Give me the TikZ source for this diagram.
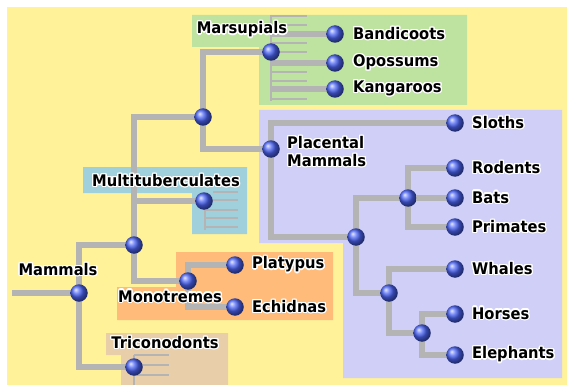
\documentclass[tikz,border=0pt]{standalone}
\usepackage{fontspec}
\setmainfont{DejaVu Sans}[FakeStretch=0.92]
\usepackage[copies]{contour}
\contourlength{1.3pt}
\usetikzlibrary{positioning,backgrounds}

\definecolor{bgyellow}{RGB}{255,242,153}
\definecolor{margreen}{RGB}{190,227,160}
\definecolor{plapurple}{RGB}{207,207,248}
\definecolor{mulblue}{RGB}{160,208,220}
\definecolor{monorange}{RGB}{255,187,122}
\definecolor{tritan}{RGB}{232,207,170}
\definecolor{linegray}{RGB}{180,180,180}
\definecolor{ballblue}{RGB}{75,100,245}

\newcommand{\glow}[1]{\contour{white}{#1}}

\begin{document}
\begin{tikzpicture}[
  x=1pt, y=-1pt,
  every node/.style={font=\bfseries\fontsize{16}{18}\selectfont},
  ball/.style={circle, minimum size=17.5pt, inner sep=0pt,
               shading=ball, ball color=ballblue},
  branch/.style={draw=linegray, line width=6.5pt},
  twig/.style={draw=linegray, line width=2.6pt},
  leaf/.style={inner sep=0pt},
]
  \useasboundingbox (0,0) rectangle (567,385);

  % Stem and early splits
  \coordinate (root) at (12,293);
  \node[ball] (mam) at (79,293) {};
  \node[ball] (allo) at (134,245) {};
  \node[ball] (ther) at (203,117) {};
  \node[ball] (tric) at (134,367) {};
  \node[ball] (multi) at (204,201) {};
  \node[ball] (mono) at (188,281) {};

  % Marsupials
  \node[ball] (mars) at (271,52) {};
  \node[ball] (band) at (335,34) {};
  \node[ball] (opos) at (335,63) {};
  \node[ball] (kang) at (335,89) {};

  % Placentals
  \node[ball] (plac) at (271,149) {};
  \node[ball] (eu1) at (356,237) {};
  \node[ball] (eu2) at (408,198) {};
  \node[ball] (eu3) at (389,293) {};
  \node[ball] (eu4) at (422,333) {};
  \node[ball] (slot) at (455,123) {};
  \node[ball] (rode) at (455,168) {};
  \node[ball] (bats) at (455,198) {};
  \node[ball] (prim) at (455,227) {};
  \node[ball] (whal) at (455,269) {};
  \node[ball] (hors) at (455,314) {};
  \node[ball] (elep) at (455,355) {};

  % Monotremes
  \node[ball] (plat) at (235,265) {};
  \node[ball] (echi) at (235,307) {};

  % Group labels
  \node (marsl) at (242,30) {\glow{Marsupials}};
  \node (multil) at (166,181) {\glow{Multituberculates}};
  \node (maml) at (58,270) {\glow{Mammals}};
  \node (monol) at (170,297) {\glow{Monotremes}};
  \node (tricl) at (165,343) {\glow{Triconodonts}};
  \node[anchor=west, align=left, inner sep=0pt] (placl) at (287,152)
    {\glow{Placental}\\\glow{Mammals}};

  % Leaf labels
  \node[leaf, right=9pt of band] (bandl) {\glow{Bandicoots}};
  \node[leaf, right=9pt of opos] (oposl) {\glow{Opossums}};
  \node[leaf, right=9pt of kang] (kangl) {\glow{Kangaroos}};
  \node[leaf, right=8pt of slot] (slotl) {\glow{Sloths}};
  \node[leaf, right=8pt of rode] (rodel) {\glow{Rodents}};
  \node[leaf, right=8pt of bats] (batsl) {\glow{Bats}};
  \node[leaf, right=8pt of prim] (priml) {\glow{Primates}};
  \node[leaf, right=8pt of whal] (whall) {\glow{Whales}};
  \node[leaf, right=8pt of hors] (horsl) {\glow{Horses}};
  \node[leaf, right=8pt of elep] (elepl) {\glow{Elephants}};
  \node[leaf, right=8pt of plat] (platl) {\glow{Platypus}};
  \node[leaf, right=8pt of echi] (echil) {\glow{Echidnas}};

  \begin{pgfonlayer}{background}
    % Coloured group areas
    \fill[bgyellow] (7,7) rectangle (567,385);
    \fill[margreen] (192,15) -- (467,15) -- (467,105) -- (259,105)
      -- (259,47) -- (192,47) -- cycle;
    \fill[plapurple] (259,110) -- (562,110) -- (562,378) -- (343,378)
      -- (343,243) -- (259,243) -- cycle;
    \fill[mulblue] (83,167) -- (247,167) -- (247,234) -- (192,234)
      -- (192,193) -- (83,193) -- cycle;
    \fill[monorange] (176,252) -- (333,252) -- (333,320) -- (117,320)
      -- (117,287) -- (176,287) -- cycle;
    \fill[tritan] (106,333) -- (228,333) -- (228,385) -- (121,385)
      -- (121,355) -- (106,355) -- cycle;

    % Extinct side lines
    \draw[twig] (271,15) -- (271,101);
    \foreach \y in {16,25,43,52,72,81,99}
      \draw[twig] (271,\y) -- (307,\y);
    \draw[twig] (205,200) -- (205,230);
    \draw[twig] (213,192) -- (238,192);
    \foreach \y in {200,210,218,227}
      \draw[twig] (205,\y) -- (238,\y);
    \draw[twig] (134,355) -- (134,385);
    \foreach \y in {355,365,375}
      \draw[twig] (134,\y) -- (169,\y);

    % Branches
    \draw[branch] (root) -- (mam.center);
    \draw[branch] (mam.center) |- (allo.center);
    \draw[branch] (mam.center) |- (tric.center);
    \draw[branch] (allo.center) |- (ther.center);
    \draw[branch] (allo.center) |- (mono.center);
    \draw[branch] (multi.center) -- (multi.center -| allo.center);
    \draw[branch] (mono.center) |- (plat.center);
    \draw[branch] (mono.center) |- (echi.center);
    \draw[branch] (ther.center) |- (mars.center);
    \draw[branch] (ther.center) |- (plac.center);
    \draw[branch] (band.center -| mars.center) -- (band.center);
    \draw[branch] (opos.center -| mars.center) -- (opos.center);
    \draw[branch] (kang.center -| mars.center) -- (kang.center);
    \draw[branch] (plac.center) |- (slot.center);
    \draw[branch] (plac.center) |- (eu1.center);
    \draw[branch] (eu1.center) |- (eu2.center);
    \draw[branch] (eu1.center) |- (eu3.center);
    \draw[branch] (eu2.center) |- (rode.center);
    \draw[branch] (eu2.center) -- (bats.center);
    \draw[branch] (eu2.center) |- (prim.center);
    \draw[branch] (eu3.center) |- (whal.center);
    \draw[branch] (eu3.center) |- (eu4.center);
    \draw[branch] (eu4.center) |- (hors.center);
    \draw[branch] (eu4.center) |- (elep.center);
  \end{pgfonlayer}
\end{tikzpicture}
\end{document}
